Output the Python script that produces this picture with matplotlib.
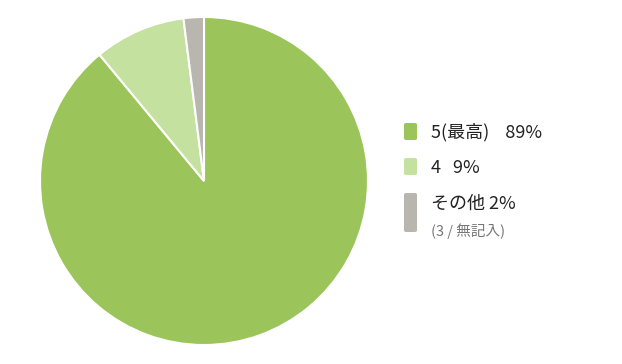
import matplotlib
matplotlib.use("Agg")
import matplotlib.pyplot as plt
from matplotlib.patches import FancyBboxPatch

plt.rcParams['font.family'] = ['Noto Sans CJK JP', 'DejaVu Sans']

labels = ["5(最高)", "4", "その他"]
values = [89, 9, 2]
pct_text = ["89%", "9%", "2%"]
note = "(3 / 無記入)"
colors = ["#9bc55a", "#c5e1a0", "#b8b6ae"]

W, H = 622, 364
fig = plt.figure(figsize=(W / 100, H / 100), dpi=100)
ax = fig.add_axes([40 / W, (H - 345) / H, 328 / W, 328 / H])
ax.pie(values, colors=colors, startangle=90, counterclock=False,
       wedgeprops=dict(edgecolor="white", linewidth=1.5))
ax.set_xlim(-1, 1); ax.set_ylim(-1, 1)
ax.set_aspect("equal")
ax.axis("off")

# legend drawn by hand (pixel positions -> figure fraction)
def fx(x): return x / W
def fy(y): return 1 - y / H

boxes = [(123, 140), (158, 175), (193, 232)]
texts = [f"{labels[0]}    {pct_text[0]}", f"{labels[1]}   {pct_text[1]}", f"{labels[2]} {pct_text[2]}"]
text_y = [132, 168, 204]
for (y0, y1), c, t, ty in zip(boxes, colors, texts, text_y):
    fig.patches.append(FancyBboxPatch((fx(404), fy(y1)), fx(417) - fx(404), fy(y0) - fy(y1),
                                      boxstyle="round,pad=0,rounding_size=0.004",
                                      transform=fig.transFigure, color=c, lw=0))
    fig.text(fx(431), fy(ty), t, fontsize=13, color="#222222", va="center", ha="left")
fig.text(fx(431), fy(231), note, fontsize=10.5, color="#777777", va="center", ha="left")

fig.savefig("out.png", dpi=100)
